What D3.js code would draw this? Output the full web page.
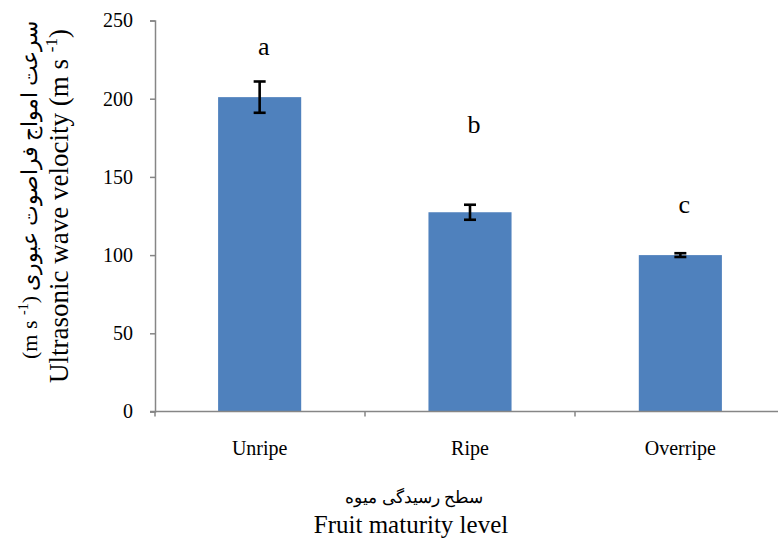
<!DOCTYPE html>
<html><head><meta charset="utf-8">
<script src="https://cdn.jsdelivr.net/npm/d3@7"></script>
<style>body{margin:0;background:#fff}svg{display:block}
svg text{font-family:"Liberation Serif","Times New Roman","DejaVu Serif",serif !important;fill:#000}</style>
</head><body><svg id="c" width="778" height="539"></svg>
<script>
const categories = ["Unripe", "Ripe", "Overripe"];
const means = [201, 127.4, 100];
const errors = [10, 4.8, 1.2];
const letters = ["a", "b", "c"];
const letterLevels = [228, 178, 127];
const yTicks = [0, 50, 100, 150, 200, 250];

const FONT = "'Liberation Serif','Times New Roman','DejaVu Serif',serif";
const svg = d3.select("#c");
const x = d3.scaleBand().domain(categories).range([155, 785]).paddingInner(0.605).paddingOuter(0.3);
const y = d3.scaleLinear().domain([0, 250]).range([411.5, 20.5]);
const axisColor = "#868686";

svg.selectAll("rect.bar").data(categories).join("rect")
  .attr("x", d => x(d)).attr("width", x.bandwidth())
  .attr("y", (d, i) => y(means[i])).attr("height", (d, i) => y(0) - y(means[i]))
  .attr("fill", "#4f81bd");

const ya = svg.append("g").attr("transform", "translate(155,0)")
  .call(d3.axisLeft(y).tickValues(yTicks).tickSize(5).tickPadding(17));
ya.attr("font-family", FONT);
ya.select(".domain").attr("stroke", axisColor).attr("stroke-width", 1.5);
ya.selectAll(".tick line").attr("stroke", axisColor).attr("stroke-width", 1.5);
ya.selectAll(".tick text").style("font-size", "20px").style("font-family", FONT);

const xEdges = d3.scaleLinear().domain([0, 3]).range([155, 785]);
svg.append("line").attr("x1", 150).attr("x2", 785).attr("y1", y(0)).attr("y2", y(0))
  .attr("stroke", axisColor).attr("stroke-width", 1.5);
svg.selectAll("line.xt").data([0, 1, 2, 3]).join("line")
  .attr("x1", d => xEdges(d)).attr("x2", d => xEdges(d))
  .attr("y1", y(0)).attr("y2", y(0) + 5).attr("stroke", axisColor).attr("stroke-width", 1.5);
svg.selectAll("text.cat").data(categories).join("text")
  .attr("x", d => x(d) + x.bandwidth() / 2).attr("y", 455)
  .attr("text-anchor", "middle").style("font-size", "20px").style("font-family", FONT).text(d => d);

const eb = svg.append("g").attr("stroke", "#000").attr("stroke-width", 2.6);
categories.forEach((c, i) => {
  const cx = x(c) + x.bandwidth() / 2;
  eb.append("line").attr("x1", cx).attr("x2", cx).attr("y1", y(means[i] + errors[i])).attr("y2", y(means[i] - errors[i]));
  [means[i] + errors[i], means[i] - errors[i]].forEach(v =>
    eb.append("line").attr("x1", cx - 6).attr("x2", cx + 6).attr("y1", y(v)).attr("y2", y(v)));
});

svg.selectAll("text.let").data(letters).join("text")
  .attr("x", (d, i) => x(categories[i]) + x.bandwidth() / 2 + 4)
  .attr("y", (d, i) => y(letterLevels[i]))
  .attr("text-anchor", "middle").style("font-size", "26px").style("font-family", FONT).text(d => d);

const t1 = svg.append("text").attr("transform", "translate(37,190) rotate(-90)")
  .attr("text-anchor", "middle").style("font-size", "22px").style("font-family", FONT);
t1.append("tspan").text("(m s ");
t1.append("tspan").attr("dy", -9).style("font-size", "14px").text("-1");
t1.append("tspan").attr("dy", 9).text(") سرعت امواج فراصوت عبوری");

const t2 = svg.append("text").attr("transform", "translate(68,206) rotate(-90)")
  .attr("text-anchor", "middle").style("font-size", "27px").style("font-family", FONT);
t2.append("tspan").text("Ultrasonic wave velocity (m s ");
t2.append("tspan").attr("dy", -11).style("font-size", "17px").text("-1");
t2.append("tspan").attr("dy", 11).text(")");

svg.append("text").attr("x", 414).attr("y", 503).attr("text-anchor", "middle")
  .style("font-size", "17px").style("font-family", FONT).text("سطح رسیدگی میوه");
svg.append("text").attr("x", 411).attr("y", 533).attr("text-anchor", "middle")
  .style("font-size", "25px").style("font-family", FONT).text("Fruit maturity level");
</script></body></html>
